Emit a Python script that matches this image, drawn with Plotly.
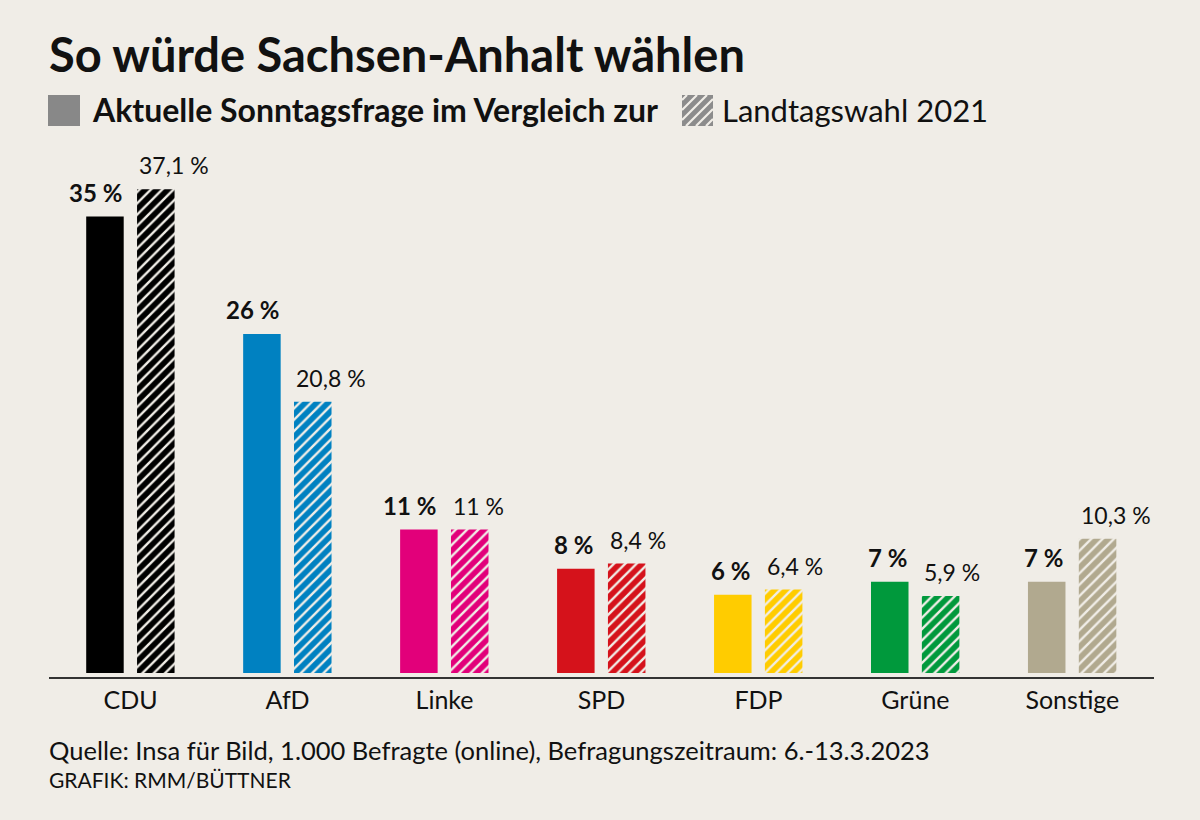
import plotly.graph_objects as go

# ---------------- data ----------------
categories = ["CDU", "AfD", "Linke", "SPD", "FDP", "Grüne", "Sonstige"]
umfrage_2023 = [35, 26, 11, 8, 6, 7, 7]
wahl_2021 = [37.1, 20.8, 11, 8.4, 6.4, 5.9, 10.3]
party_colors = ["#000000", "#0081C1", "#E2007A", "#D5121B", "#FFCC00", "#00993C", "#B1A98F"]

title_text = "So würde Sachsen-Anhalt wählen"
legend_current = "Aktuelle Sonntagsfrage im Vergleich zur"
legend_past = "Landtagswahl 2021"
source_text = "Quelle: Insa für Bild, 1.000 Befragte (online), Befragungszeitraum: 6.-13.3.2023"
credit_text = "GRAFIK: RMM/BÜTTNER"

# ---------------- layout constants ----------------
W, H = 1200, 820
BG = "#F0EDE7"
FONT = "Lato"
ML, MR, MT, MB = 49, 46, 150, 143
PW, PH = W - ML - MR, H - MT - MB

BAR_W = 0.239
OFF_SOLID = -0.283
OFF_HATCH = 0.041


def fmt(v):
    s = f"{v:g}".replace(".", ",")
    return s + " %"


def px_x(p):
    return (p - ML) / PW


def px_y(p):
    return (H - MB - p) / PH


x_idx = list(range(len(categories)))

fig = go.Figure()
fig.add_bar(
    x=x_idx, y=umfrage_2023, width=BAR_W, offset=OFF_SOLID,
    marker=dict(color=party_colors, line=dict(width=0)),
    name="Aktuelle Sonntagsfrage", hoverinfo="skip",
)
fig.add_bar(
    x=x_idx, y=wahl_2021, width=BAR_W, offset=OFF_HATCH,
    marker=dict(
        color=party_colors, line=dict(width=0),
        pattern=dict(shape="/", fgcolor=party_colors, bgcolor=BG,
                     size=8, solidity=0.7, fillmode="replace"),
    ),
    name="Landtagswahl 2021", hoverinfo="skip",
)

annotations = []
for i, (a, b) in enumerate(zip(umfrage_2023, wahl_2021)):
    annotations.append(dict(
        x=i + OFF_SOLID + BAR_W, y=a, xref="x", yref="y",
        text=f"<b>{fmt(a)}</b>", showarrow=False,
        xanchor="right", yanchor="bottom", yshift=8,
        font=dict(family=FONT, size=24, color="#111111"),
    ))
    annotations.append(dict(
        x=i + OFF_HATCH, y=b, xref="x", yref="y",
        text=fmt(b), showarrow=False,
        xanchor="left", yanchor="bottom", yshift=8,
        font=dict(family=FONT, size=23, color="#111111"),
    ))

# title, legend text, footer
annotations += [
    dict(x=px_x(47), y=px_y(54), xref="paper", yref="paper", text=f"<b>{title_text}</b>",
         showarrow=False, xanchor="left", yanchor="middle",
         font=dict(family=FONT, size=47, color="#111111")),
    dict(x=px_x(90), y=px_y(110), xref="paper", yref="paper", text=f"<b>{legend_current}</b>",
         showarrow=False, xanchor="left", yanchor="middle",
         font=dict(family=FONT, size=32, color="#111111")),
    dict(x=px_x(720), y=px_y(110), xref="paper", yref="paper", text=legend_past,
         showarrow=False, xanchor="left", yanchor="middle",
         font=dict(family=FONT, size=31, color="#111111")),
    dict(x=px_x(47), y=px_y(750), xref="paper", yref="paper", text=source_text,
         showarrow=False, xanchor="left", yanchor="middle",
         font=dict(family=FONT, size=25.5, color="#111111")),
    dict(x=px_x(47), y=px_y(780), xref="paper", yref="paper", text=credit_text,
         showarrow=False, xanchor="left", yanchor="middle",
         font=dict(family=FONT, size=21, color="#111111")),
]

# legend squares
shapes = [
    dict(type="rect", xref="paper", yref="paper",
         x0=px_x(48), x1=px_x(80), y0=px_y(126), y1=px_y(95),
         fillcolor="#888888", line=dict(width=0)),
    dict(type="rect", xref="paper", yref="paper",
         x0=px_x(682), x1=px_x(713), y0=px_y(126), y1=px_y(95),
         fillcolor="#8C8C8C", line=dict(width=0)),
]
# hatch lines on the legend square ("/" direction): lines x + y = c in pixel space
hx0, hx1, hy0, hy1 = 682, 713, 95, 126
path = ""
c = hx0 + hy0 + 5
while c < hx1 + hy1:
    xa = max(hx0, c - hy1)
    xb = min(hx1, c - hy0)
    if xb > xa:
        path += f"M{px_x(xa)},{px_y(c - xa)} L{px_x(xb)},{px_y(c - xb)} "
    c += 10
shapes.append(dict(type="path", xref="paper", yref="paper", path=path,
                   line=dict(color=BG, width=2.2)))

fig.update_layout(
    width=W, height=H,
    margin=dict(l=ML, r=MR, t=MT, b=MB, pad=0),
    paper_bgcolor=BG, plot_bgcolor=BG,
    showlegend=False, barmode="group",
    annotations=annotations, shapes=shapes,
    xaxis=dict(
        range=[-0.52, 6.52], tickvals=x_idx, ticktext=categories,
        showgrid=False, zeroline=False, showline=True, linecolor="#333333", linewidth=2,
        ticks="", ticklen=0,
        tickfont=dict(family=FONT, size=25, color="#111111"), fixedrange=True,
    ),
    yaxis=dict(
        range=[-0.3, 40.1], visible=False, showgrid=False, zeroline=False, fixedrange=True,
    ),
    font=dict(family=FONT),
)

fig.write_html("out.html", config={"displayModeBar": False})
